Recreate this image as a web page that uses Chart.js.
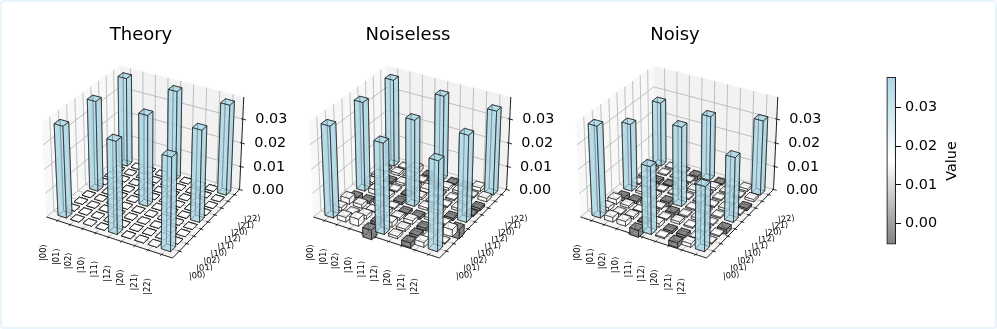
<!DOCTYPE html>
<html>
<head>
<meta charset="utf-8">
<script src="https://cdn.jsdelivr.net/npm/chart.js@4"></script>
<style>
  html, body { margin: 0; padding: 0; background: #fff; }
  #frame { position: relative; width: 997px; height: 329px; overflow: hidden; }
  #frame::after { content: ''; position: absolute; inset: 0; border: 2px solid #e8f5fd; border-radius: 4px; pointer-events: none; }
  canvas { position: absolute; top: 0; }
</style>
</head>
<body>
<div id="frame">
  <canvas id="panel0" width="300" height="329" style="left:0"></canvas>
  <canvas id="panel1" width="300" height="329" style="left:267px"></canvas>
  <canvas id="panel2" width="300" height="329" style="left:534px"></canvas>
  <canvas id="colorbar" width="110" height="200" style="left:880px;top:60px"></canvas>
</div>
<script>
const basis = ['|00⟩', '|01⟩', '|02⟩', '|10⟩', '|11⟩', '|12⟩', '|20⟩', '|21⟩', '|22⟩'];
const titles = ['Theory', 'Noiseless', 'Noisy'];
const zTicks = [0, 0.01, 0.02, 0.03];
const colorbarTicks = [0, 0.01, 0.02, 0.03];
const zMax = 0.039;
const colorbarMin = -0.00535;
const colorbarMax = 0.03776;

// rows are x index, columns are y index
const theory = [
  [0.0378, 0, 0, 0, 0.0378, 0, 0, 0, 0.0378],
  [0, 0, 0, 0, 0, 0, 0, 0, 0],
  [0, 0, 0, 0, 0, 0, 0, 0, 0],
  [0, 0, 0, 0, 0, 0, 0, 0, 0],
  [0.0378, 0, 0, 0, 0.0378, 0, 0, 0, 0.0378],
  [0, 0, 0, 0, 0, 0, 0, 0, 0],
  [0, 0, 0, 0, 0, 0, 0, 0, 0],
  [0, 0, 0, 0, 0, 0, 0, 0, 0],
  [0.0378, 0, 0, 0, 0.0378, 0, 0, 0, 0.0378]
];
const noiseless = [
  [0.0378, 0.0015, 0.0025, -0.002, 0.0374, 0.001, 0.001, 0.0005, 0.0371],
  [0.002, 0.0005, 0.0015, -0.001, 0.002, 0.0005, -0.001, 0.001, 0.0005],
  [0.003, 0.0015, 0.0003, 0.0015, 0.001, 0.0005, 0.001, 0.001, 0.002],
  [-0.004, -0.001, 0.0015, 0.0005, -0.001, -0.0005, 0.001, 0.0005, -0.002],
  [0.0371, 0.002, 0.001, -0.001, 0.0359, 0.001, 0.0015, -0.001, 0.0359],
  [0.001, 0.001, 0.0015, -0.001, 0.001, 0.0005, 0.0005, 0.001, -0.0005],
  [-0.002, -0.001, -0.001, 0.001, 0.0015, 0.0005, 0.0005, 0.001, -0.001],
  [0.002, 0.0005, 0.001, 0.0005, -0.001, 0.001, 0.001, 0.0005, 0.0015],
  [0.0364, 0.0005, 0.003, -0.004, 0.0358, -0.0005, -0.001, 0.0015, 0.0354]
];
const noisy = [
  [0.0378, 0.0015, 0.002, -0.0015, 0.0284, 0.0005, 0.0005, 0.0005, 0.0275],
  [0.002, 0.0005, 0.001, -0.001, 0.001, 0.0005, -0.001, 0.0005, 0.0005],
  [0.002, 0.001, 0.0003, 0.001, 0.001, 0.0005, -0.0005, 0.0005, 0.0005],
  [-0.003, -0.0005, 0.001, 0.0005, -0.002, 0.0005, 0.001, 0.0005, -0.002],
  [0.0278, 0.0015, 0.0005, -0.002, 0.0331, 0.0005, 0.001, 0.0005, 0.0274],
  [0.0005, -0.001, 0.001, 0.0005, 0.0005, 0.0005, 0.0005, 0.001, -0.0005],
  [-0.002, -0.001, 0.0005, 0.001, 0.001, 0.0005, 0.0005, 0.0005, 0.0005],
  [0.0015, 0.0005, 0.0005, 0.0005, 0.0005, 0.001, 0.0005, 0.0005, 0.001],
  [0.0264, 0.0005, 0.0005, -0.002, 0.0269, 0.0005, -0.001, 0.001, 0.0314]
];
const panels = [theory, noiseless, noisy];

// view used by the 3d box: elev 30, azim -60, seen from distance 10
const halfBox = [0.5953, 0.5953, 0.4465];
const scaleX = 1213, scaleY = 1210, originX = 144.8, originY = 157.2;
const gridSpan = 9.7, gridStart = 0.9, barHalf = 0.34;

function project(xf, yf, zf) {
  const dx = (2 * xf - 1) * halfBox[0], dy = (2 * yf - 1) * halfBox[1], dz = (2 * zf - 1) * halfBox[2];
  const xv = 0.866 * dx + 0.5 * dy;
  const yv = -0.25 * dx + 0.433 * dy + 0.866 * dz;
  const zv = 0.433 * dx - 0.75 * dy + 0.5 * dz;
  const w = 10 - zv;
  return { x: xv / w, y: yv / w, depth: zv };
}
const cell = v => (v + gridStart) / gridSpan;
const height = v => v / zMax;

function polyline(pts, color, width, fill) {
  return {
    data: pts.map(p => ({ x: p.x, y: p.y })),
    borderColor: color,
    borderWidth: width,
    backgroundColor: fill || 'transparent',
    fill: fill ? 'shape' : false,
    pointRadius: 0,
    tension: 0.000001
  };
}

function frameDatasets() {
  const out = [];
  const P = project;
  // panes
  out.push(polyline([P(0,0,0), P(0,1,0), P(0,1,1), P(0,0,1), P(0,0,0)], 'rgba(250,250,250,0.6)', 0.8, 'rgba(242,242,242,0.5)'));
  out.push(polyline([P(0,1,0), P(1,1,0), P(1,1,1), P(0,1,1), P(0,1,0)], 'rgba(250,250,250,0.6)', 0.8, 'rgba(230,230,230,0.5)'));
  out.push(polyline([P(0,0,0), P(1,0,0), P(1,1,0), P(0,1,0), P(0,0,0)], 'rgba(250,250,250,0.6)', 0.8, 'rgba(236,236,236,0.5)'));
  // grid
  const grid = '#b0b0b0';
  basis.forEach((_, i) => {
    const t = cell(i);
    out.push(polyline([P(t,0,0), P(t,1,0), P(t,1,1)], grid, 0.8));
    out.push(polyline([P(1,t,0), P(0,t,0), P(0,t,1)], grid, 0.8));
  });
  zTicks.forEach(z => {
    const h = height(z);
    out.push(polyline([P(0,0,h), P(0,1,h), P(1,1,h)], grid, 0.8));
  });
  // axis lines and ticks
  out.push(polyline([P(0,0,0), P(1,0,0)], '#000', 0.9));
  out.push(polyline([P(1,0,0), P(1,1,0)], '#000', 0.9));
  out.push(polyline([P(1,1,0), P(1,1,1)], '#000', 0.9));
  basis.forEach((_, i) => {
    const t = cell(i);
    out.push(polyline([P(t,-0.018,0), P(t,0.012,0)], '#000', 0.9));
    out.push(polyline([P(1.018,t,0), P(0.988,t,0)], '#000', 0.9));
  });
  zTicks.forEach(z => {
    const h = height(z);
    out.push(polyline([P(0.988,1,h), P(1.025,1,h)], '#000', 0.9));
  });
  return out;
}

function barColor(v) {
  if (v > 0.01) return 'rgba(173,216,230,0.6)';
  if (v < 0) return 'rgba(128,128,128,0.7)';
  return 'rgba(255,255,255,0.8)';
}

function barDatasets(matrix) {
  const P = project;
  const bars = [];
  matrix.forEach((row, i) => row.forEach((v, j) => {
    const x0 = cell(i - barHalf), x1 = cell(i + barHalf);
    const y0 = cell(j - barHalf), y1 = cell(j + barHalf);
    const z0 = height(Math.min(v, 0)), z1 = height(Math.max(v, 0));
    bars.push({ v, x0, x1, y0, y1, z0, z1, depth: P(cell(i), cell(j), 0).depth });
  }));
  bars.sort((a, b) => a.depth - b.depth);

  const out = [];
  const edge = 'rgba(0,0,0,0.7)';
  bars.forEach(b => {
    const c = barColor(b.v);
    const faces = [
      [P(b.x0,b.y0,b.z0), P(b.x1,b.y0,b.z0), P(b.x1,b.y1,b.z0), P(b.x0,b.y1,b.z0)], // bottom
      [P(b.x0,b.y1,b.z0), P(b.x1,b.y1,b.z0), P(b.x1,b.y1,b.z1), P(b.x0,b.y1,b.z1)], // back
      [P(b.x0,b.y0,b.z0), P(b.x0,b.y1,b.z0), P(b.x0,b.y1,b.z1), P(b.x0,b.y0,b.z1)], // left
      [P(b.x0,b.y0,b.z0), P(b.x1,b.y0,b.z0), P(b.x1,b.y0,b.z1), P(b.x0,b.y0,b.z1)], // front
      [P(b.x1,b.y0,b.z0), P(b.x1,b.y1,b.z0), P(b.x1,b.y1,b.z1), P(b.x1,b.y0,b.z1)], // right
      [P(b.x0,b.y0,b.z1), P(b.x1,b.y0,b.z1), P(b.x1,b.y1,b.z1), P(b.x0,b.y1,b.z1)]  // top
    ];
    faces.forEach(f => out.push(polyline([...f, f[0]], edge, 0.8, c)));
  });
  return out;
}

const font = 'DejaVu Sans';

function textPlugin(k) {
  return {
    id: 'axisText' + k,
    afterDraw(chart) {
      const { ctx, scales } = chart;
      const px = p => [scales.x.getPixelForValue(p.x), scales.y.getPixelForValue(p.y)];
      ctx.save();
      ctx.fillStyle = '#000';
      ctx.textAlign = 'center';
      ctx.textBaseline = 'middle';
      ctx.font = '18px "' + font + '"';
      ctx.fillText(titles[k], 141, 35);

      ctx.font = '8.4px "' + font + '"';
      basis.forEach((label, i) => {
        const t = cell(i);
        const [ax, ay] = px(project(t, 0, 0));
        ctx.save();
        ctx.translate(ax - 13.5, ay + 32);
        ctx.rotate(-Math.PI / 2);
        ctx.fillText(label, 0, 0);
        ctx.restore();
        const [bx, by] = px(project(1, t, 0));
        ctx.save();
        ctx.translate(bx + 18, by + 24.5);
        ctx.rotate(-6 * Math.PI / 180);
        ctx.fillText(label, 0, 0);
        ctx.restore();
      });

      ctx.font = '14.4px "' + font + '"';
      ctx.textAlign = 'left';
      zTicks.forEach(z => {
        const [zx, zy] = px(project(1, 1, height(z)));
        ctx.fillText(z.toFixed(2), zx + 12.5, zy + 0.5);
      });
      ctx.restore();
    }
  };
}

panels.forEach((matrix, k) => {
  new Chart(document.getElementById('panel' + k), {
    type: 'line',
    data: { datasets: [...frameDatasets(), ...barDatasets(matrix)].reverse() },
    plugins: [textPlugin(k)],
    options: {
      responsive: false,
      animation: false,
      events: [],
      layout: { padding: 0 },
      plugins: { legend: { display: false }, tooltip: { enabled: false }, title: { display: false } },
      scales: {
        x: { type: 'linear', display: false, min: -originX / scaleX, max: (300 - originX) / scaleX },
        y: { type: 'linear', display: false, min: (originY - 329) / scaleY, max: originY / scaleY }
      }
    }
  });
});

new Chart(document.getElementById('colorbar'), {
  type: 'bar',
  data: {
    labels: ['Value'],
    datasets: [{
      data: [[colorbarMin, colorbarMax]],
      barPercentage: 1,
      categoryPercentage: 1,
      borderSkipped: false,
      borderWidth: 1.4,
      borderColor: '#222',
      backgroundColor(c) {
        const a = c.chart.chartArea;
        if (!a) return '#808080';
        const g = c.chart.ctx.createLinearGradient(0, a.bottom, 0, a.top);
        g.addColorStop(0, '#808080');
        g.addColorStop(0.5, '#ffffff');
        g.addColorStop(1, '#add8e6');
        return g;
      }
    }]
  },
  plugins: [{
    id: 'colorbarLabel',
    afterDraw(chart) {
      const { ctx } = chart;
      ctx.save();
      ctx.fillStyle = '#000';
      ctx.font = '14.4px "' + font + '"';
      ctx.textAlign = 'center';
      ctx.textBaseline = 'middle';
      ctx.translate(72, 101);
      ctx.rotate(-Math.PI / 2);
      ctx.fillText('Value', 0, 0);
      ctx.restore();
    }
  }],
  options: {
    responsive: false,
    animation: false,
    events: [],
    layout: { padding: { left: 6.5, top: 17, bottom: 15.5, right: 0 } },
    plugins: { legend: { display: false }, tooltip: { enabled: false } },
    scales: {
      x: { display: false },
      y: {
        position: 'right',
        min: colorbarMin,
        max: colorbarMax,
        afterFit(axis) { axis.width = 94; },
        afterBuildTicks(axis) { axis.ticks = colorbarTicks.map(value => ({ value })); },
        border: { display: false },
        grid: { drawOnChartArea: false, color: '#000', tickLength: 5, tickWidth: 1 },
        ticks: {
          color: '#000',
          padding: 4,
          font: { family: font, size: 14.4 },
          callback: v => v.toFixed(2)
        }
      }
    }
  }
});
</script>
</body>
</html>
